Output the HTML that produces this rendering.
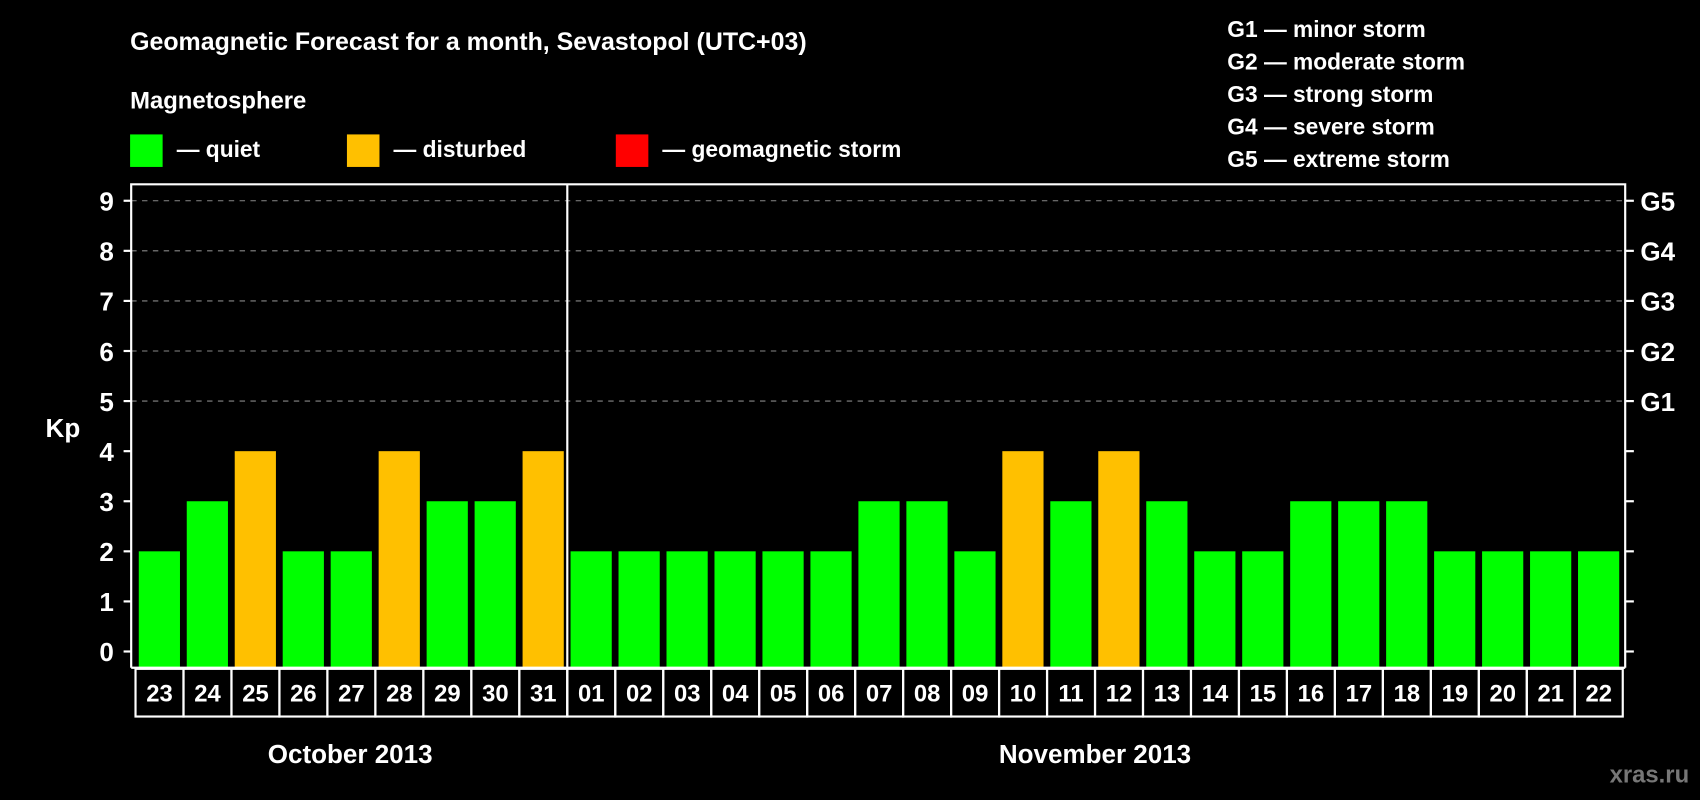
<!DOCTYPE html>
<html><head><meta charset="utf-8"><style>
html,body{margin:0;padding:0;background:#000;}
svg{display:block;font-family:"Liberation Sans",Arial,sans-serif;font-weight:bold;}
</style></head><body>
<svg id="chart" width="1700" height="800" viewBox="0 0 1568 738" preserveAspectRatio="none" xmlns="http://www.w3.org/2000/svg">
<rect width="1568" height="738" fill="#000"/>
<text x="120" y="46" fill="#fff" font-size="23">Geomagnetic Forecast for a month, Sevastopol (UTC+03)</text>
<text x="120" y="100" fill="#fff" font-size="22">Magnetosphere</text>
<g><rect x="120" y="124" width="30" height="30" fill="#00ff00"/><text x="163" y="145" fill="#fff" font-size="21">— quiet</text></g>
<g><rect x="320" y="124" width="30" height="30" fill="#ffc000"/><text x="363" y="145" fill="#fff" font-size="21">— disturbed</text></g>
<g><rect x="568" y="124" width="30" height="30" fill="#ff0000"/><text x="611" y="145" fill="#fff" font-size="21">— geomagnetic storm</text></g>
<g fill="#fff" font-size="21">
<text x="1132" y="34">G1 — minor storm</text>
<text x="1132" y="64">G2 — moderate storm</text>
<text x="1132" y="94">G3 — strong storm</text>
<text x="1132" y="124">G4 — severe storm</text>
<text x="1132" y="154">G5 — extreme storm</text>
</g>
<text x="58" y="403" fill="#fff" font-size="24" text-anchor="middle">Kp</text>
<g id="grid"></g>
<g id="bars"></g>
<g id="axes"></g>
<text x="323" y="704" fill="#fff" font-size="24" text-anchor="middle">October 2013</text>
<text x="1010" y="704" fill="#fff" font-size="24" text-anchor="middle">November 2013</text>
<text x="1558" y="722" fill="#777" font-size="22" text-anchor="end">xras.ru</text>
</svg>
<script>
const days = ["23","24","25","26","27","28","29","30","31","01","02","03","04","05","06","07","08","09","10","11","12","13","14","15","16","17","18","19","20","21","22"];
const kpValues = [2,3,4,2,2,4,3,3,4,2,2,2,2,2,2,3,3,2,4,3,4,3,2,2,3,3,3,2,2,2,2];
const yTicks = [0,1,2,3,4,5,6,7,8,9];
const stormLabels = ["","","","","","G1","G2","G3","G4","G5"];
const NS="http://www.w3.org/2000/svg";
const X0=125, BW=44.25, PL=121, PR=1499, PT=170, PB=616;
const y=v=>601-v*46.2;
const x=i=>X0+i*BW;
function mk(tag,attrs,parent){const e=document.createElementNS(NS,tag);for(const k in attrs)e.setAttribute(k,attrs[k]);parent.appendChild(e);return e;}
const grid=document.getElementById('grid'),bars=document.getElementById('bars'),axes=document.getElementById('axes');
yTicks.forEach((t,i)=>{
  if(t>=5){const g=mk('line',{x1:PL,x2:PR,y1:y(t),y2:y(t),stroke:'#888','stroke-width':1,'stroke-dasharray':'5,5'},grid);
  
  }
  mk('line',{x1:PL-7,x2:PL,y1:y(t),y2:y(t),stroke:'#fff','stroke-width':2},axes);
  mk('line',{x1:PR,x2:PR+8,y1:y(t),y2:y(t),stroke:'#fff','stroke-width':2},axes);
  const l=mk('text',{x:105,y:y(t)+9,fill:'#fff','font-size':24,'text-anchor':'end'},axes);l.textContent=t;
  
  
  if(stormLabels[i]){const s=mk('text',{x:1513,y:y(t)+9,fill:'#fff','font-size':24},axes);s.textContent=stormLabels[i];
  
  }
});
kpValues.forEach((v,i)=>{
  const col=v>=5?'#ff0000':(v>=4?'#ffc000':'#00ff00');
  const r=mk('rect',{x:x(i)+3,y:y(v),width:38,height:PB-y(v),fill:col},bars);
  
  
  const c=mk('rect',{x:x(i),y:PB+1,width:BW,height:44,fill:'none',stroke:'#fff','stroke-width':2},axes);
  
  
  const t=mk('text',{x:x(i)+BW/2,y:PB+31,fill:'#fff','font-size':22,'text-anchor':'middle'},axes);t.textContent=days[i];
  
  
});
mk('polyline',{points:`${PL},${PB} ${PL},${PT} ${PR},${PT} ${PR},${PB}`,fill:'none',stroke:'#fff','stroke-width':2},axes);
mk('line',{x1:PL,x2:PR,y1:PB,y2:PB,stroke:'#fff','stroke-width':2},axes);
const sep=mk('line',{x1:x(9),x2:x(9),y1:PT,y2:PB+45,stroke:'#fff','stroke-width':2},axes);


</script>
</body></html>
